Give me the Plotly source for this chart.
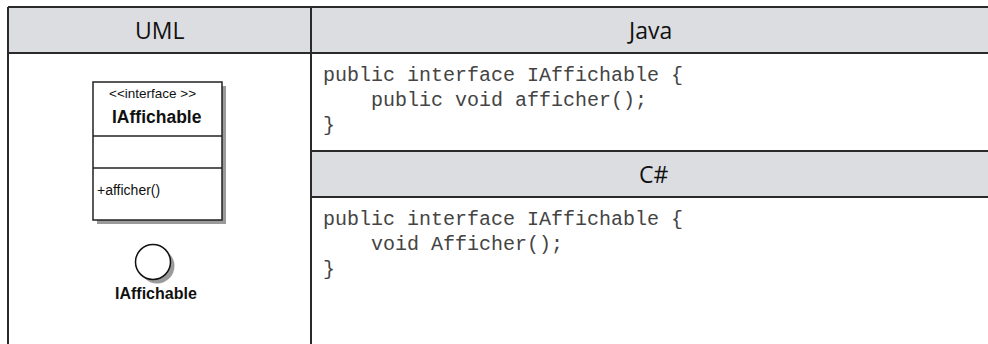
import plotly.graph_objects as go

# ---- content ----
column_headers = ["UML", "Java"]
sub_header = "C#"
java_code = ["public interface IAffichable {", "    public void afficher();", "}"]
csharp_code = ["public interface IAffichable {", "    void Afficher();", "}"]
uml_stereotype = "<<interface >>"
uml_name = "IAffichable"
uml_operations = ["+afficher()"]
lollipop_label = "IAffichable"

W, H = 988, 344
LINE = "#2a2a2a"
HEAD = "#dcdde0"

fig = go.Figure()
shapes = []
ann = []

def line(x0, y0, x1, y1, w=2, c=LINE):
    shapes.append(dict(type="line", x0=x0, y0=y0, x1=x1, y1=y1,
                       line=dict(color=c, width=w), layer="above"))

def rect(x0, y0, x1, y1, fill):
    shapes.append(dict(type="rect", x0=x0, y0=y0, x1=x1, y1=y1, fillcolor=fill,
                       line=dict(width=0), layer="below"))

def text(x, y, s, size, color="#222", family="Liberation Sans", anchor="center", bold=False):
    if bold:
        s = "<b>" + s + "</b>"
    ann.append(dict(x=x, y=y, xref="x", yref="y", text=s, showarrow=False,
                    xanchor=anchor, yanchor="middle",
                    font=dict(size=size, color=color, family=family)))

# table geometry
L, DIV, R = 8, 311, W + 4
TOP, HB = 7, 53
CT, CB = 151, 197

rect(L, TOP, R, HB, HEAD)
rect(DIV, CT, R, CB, HEAD)

line(L, TOP, R, TOP)
line(L, HB, R, HB)
line(DIV, CT, R, CT)
line(DIV, CB, R, CB)
line(L, TOP, L, H + 4)
line(DIV, TOP, DIV, H + 4)

hdr_font = "Open Sans"
text((L + DIV) / 2, 30, column_headers[0], 23, "#111", hdr_font)
text((DIV + W) / 2, 30, column_headers[1], 23, "#111", hdr_font)
text((DIV + W) / 2 + 4, (CT + CB) / 2, sub_header, 23, "#111", hdr_font)

mono = "Liberation Mono"
def code_block(lines, y0):
    for i, s in enumerate(lines):
        n = len(s) - len(s.lstrip(" "))
        s2 = "\u00a0" * n + s.lstrip(" ")
        text(321, y0 + i * 25, s2, 20, "#444", mono, anchor="left")

code_block(java_code, 75)
code_block(csharp_code, 219)

# UML class box
bx0, by0, bx1, by1 = 93, 82, 222, 220
shapes.append(dict(type="rect", x0=bx0 + 4, y0=by0 + 4, x1=bx1 + 4, y1=by1 + 4,
                   fillcolor="#9a9a9a", line=dict(width=0), layer="above"))
shapes.append(dict(type="rect", x0=bx0, y0=by0, x1=bx1, y1=by1,
                   fillcolor="white", line=dict(color="#222", width=1.5), layer="above"))
shapes.append(dict(type="line", x0=bx0, y0=136, x1=bx1, y1=136,
                   line=dict(color="#222", width=1.5), layer="above"))
shapes.append(dict(type="line", x0=bx0, y0=168, x1=bx1, y1=168,
                   line=dict(color="#222", width=1.5), layer="above"))
text(152, 93, uml_stereotype.replace("<", "&lt;").replace(">", "&gt;"), 13.5, "#111")
text(157, 117, uml_name, 17.5, "#111", bold=True)
for i, op in enumerate(uml_operations):
    text(95, 190 + i * 16, op, 14, "#111", anchor="left")

# lollipop
cx, cy, r = 153, 262, 17.5
shapes.append(dict(type="circle", x0=cx - r + 4, y0=cy - r + 4, x1=cx + r + 4, y1=cy + r + 4,
                   fillcolor="#9a9a9a", line=dict(width=0), layer="above"))
shapes.append(dict(type="circle", x0=cx - r, y0=cy - r, x1=cx + r, y1=cy + r,
                   fillcolor="white", line=dict(color="#111", width=1.5), layer="above"))
text(156, 293, lollipop_label, 16, "#111", bold=True)

fig.update_layout(
    width=W, height=H, margin=dict(l=0, r=0, t=0, b=0),
    paper_bgcolor="white", plot_bgcolor="white",
    xaxis=dict(range=[0, W], visible=False, fixedrange=True),
    yaxis=dict(range=[H, 0], visible=False, fixedrange=True),
    shapes=shapes, annotations=ann, showlegend=False,
)
fig.write_html(
    "out.html",
    config={"displayModeBar": False},
    post_script="document.body.style.margin='0';document.documentElement.style.overflow='hidden';document.body.style.overflow='hidden';",
)
